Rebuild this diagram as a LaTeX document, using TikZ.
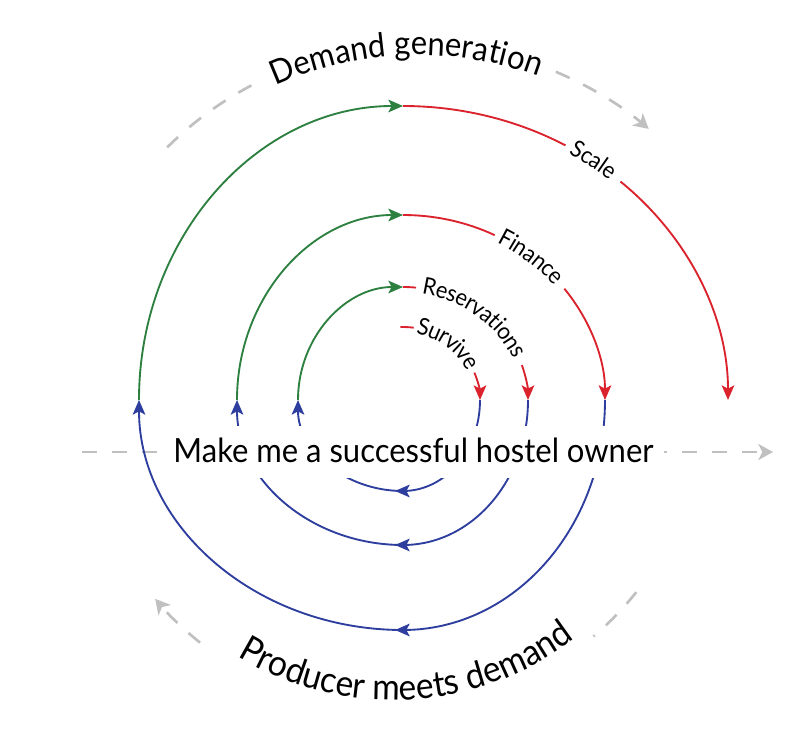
\documentclass[tikz,border=0pt]{standalone}
\usepackage{fontspec}
\setmainfont{Lato}[FakeStretch=0.93]
\usetikzlibrary{arrows.meta,calc,decorations.text}

\definecolor{spgreen}{RGB}{45,128,64}
\definecolor{spred}{RGB}{218,35,45}
\definecolor{spblue}{RGB}{46,62,158}
\definecolor{flowgray}{RGB}{192,192,192}

\newcommand\mainsize{\fontsize{25}{30}\selectfont}
\newcommand\arcsize{\fontsize{25}{30}\selectfont}
\newcommand\lowarcsize{\fontsize{27}{32}\selectfont}
\newcommand\tagsize{\fontsize{17.5}{21}\selectfont}

\begin{document}
\begin{tikzpicture}[x=0.75pt,y=0.75pt,
  seg/.style={line width=1.4pt},
  loop/.style={seg,-{Stealth[length=11pt,width=9.5pt,inset=2.5pt]}},
  flow/.style={draw=flowgray,line width=2pt,dash pattern=on 11.25pt off 11.25pt},
  flowtip/.style={-{Stealth[length=11pt,width=12pt,inset=3pt]}},
  arctext/.style={decorate,decoration={text along path,text align=center,text={|\arcsize|#1}}},
  lowarctext/.style={decorate,decoration={text along path,text align=center,text={|\lowarcsize|#1}}},
  tag/.style={decorate,decoration={text along path,text align=center,raise=-4.4pt,text={|\tagsize|#1}}},
]
\useasboundingbox (0,0) rectangle (800,-732);
\coordinate (O) at (403,-400);
\coordinate (Ctop) at (418,-400);
\coordinate (Cbot) at (393,-400);
\coordinate (axisL) at (82,-452);
\coordinate (axisR) at (773,-452);

% horizontal axis
\draw[flow,flowtip] (axisL) -- (axisR);

% upper flow arc with its caption
\draw[flow] ($(Ctop)+(134.8:356)$) arc[start angle=134.8,end angle=117.6,radius=356];
\draw[flow,flowtip] ($(Ctop)+(67.2:356)$) arc[start angle=67.2,end angle=49.6,radius=356];
\path[arctext={Demand generation}] ($(Ctop)+(137:345)$) arc[start angle=137,end angle=47,radius=345];

% lower flow arc with its caption
\draw[flow] ($(Cbot)+(-38.3:310)$) arc[start angle=-38.3,end angle=-49.7,radius=310];
\draw[flow,flowtip] ($(Cbot)+(-128.5:310)$) arc[start angle=-128.5,end angle=-140.1,radius=310];
\path[lowarctext={Producer meets demand}] ($(Cbot)+(-137:300)$) arc[start angle=-137,end angle=-37,radius=300];

% turn 0: Survive
\draw[seg,spred] ($(O)+(92:77 and 73)$) arc[start angle=92,end angle=82,x radius=77,y radius=73];
\draw[loop,spred] ($(O)+(22:77 and 73)$) arc[start angle=22,end angle=0,x radius=77,y radius=73];
\path[tag={Survive}] ($(O)+(97:77 and 73)$) arc[start angle=97,end angle=7,x radius=77,y radius=73];
\draw[loop,spblue] ($(O)+(0:77 and 91)$) arc[start angle=0,end angle=-90,x radius=77,y radius=91] -- ++(-8,0);
\draw[loop,spblue] ($(O)+(-90:105 and 91)$) arc[start angle=-90,end angle=-180,x radius=105,y radius=91];

% turn 1: Reservations
\draw[loop,spgreen] ($(O)+(180:105 and 113)$) arc[start angle=180,end angle=90,x radius=105,y radius=113];
\draw[seg,spred] ($(O)+(90:125 and 113)$) arc[start angle=90,end angle=84,x radius=125,y radius=113];
\draw[loop,spred] ($(O)+(18:125 and 113)$) arc[start angle=18,end angle=0,x radius=125,y radius=113];
\path[tag={Reservations}] ($(O)+(96:125 and 113)$) arc[start angle=96,end angle=6,x radius=125,y radius=113];
\draw[loop,spblue] ($(O)+(0:125 and 145)$) arc[start angle=0,end angle=-90,x radius=125,y radius=145] -- ++(-8,0);
\draw[loop,spblue] ($(O)+(-90:166 and 145)$) arc[start angle=-90,end angle=-180,x radius=166,y radius=145];

% turn 2: Finance
\draw[loop,spgreen] ($(O)+(180:166 and 185)$) arc[start angle=180,end angle=90,x radius=166,y radius=185];
\draw[seg,spred] ($(O)+(90:202 and 185)$) arc[start angle=90,end angle=63,x radius=202,y radius=185];
\draw[loop,spred] ($(O)+(37:202 and 185)$) arc[start angle=37,end angle=0,x radius=202,y radius=185];
\path[tag={Finance}] ($(O)+(80:202 and 185)$) arc[start angle=80,end angle=20,x radius=202,y radius=185];
\draw[loop,spblue] ($(O)+(0:202 and 230)$) arc[start angle=0,end angle=-90,x radius=202,y radius=230] -- ++(-8,0);
\draw[loop,spblue] ($(O)+(-90:264 and 230)$) arc[start angle=-90,end angle=-180,x radius=264,y radius=230];

% turn 3: Scale
\draw[loop,spgreen] ($(O)+(180:264 and 294)$) arc[start angle=180,end angle=90,x radius=264,y radius=294];
\draw[seg,spred] ($(O)+(90:325 and 294)$) arc[start angle=90,end angle=60,x radius=325,y radius=294];
\draw[loop,spred] ($(O)+(48:325 and 294)$) arc[start angle=48,end angle=0,x radius=325,y radius=294];
\path[tag={Scale}] ($(O)+(74:325 and 294)$) arc[start angle=74,end angle=34,x radius=325,y radius=294];

% goal
\node[fill=white,inner xsep=7.5pt,inner ysep=0pt,minimum height=39pt,
      text height=15pt,text depth=0pt,font=\mainsize] (goal) at (413.5,-452)
      {Make me a successful hostel owner};
\end{tikzpicture}
\end{document}
